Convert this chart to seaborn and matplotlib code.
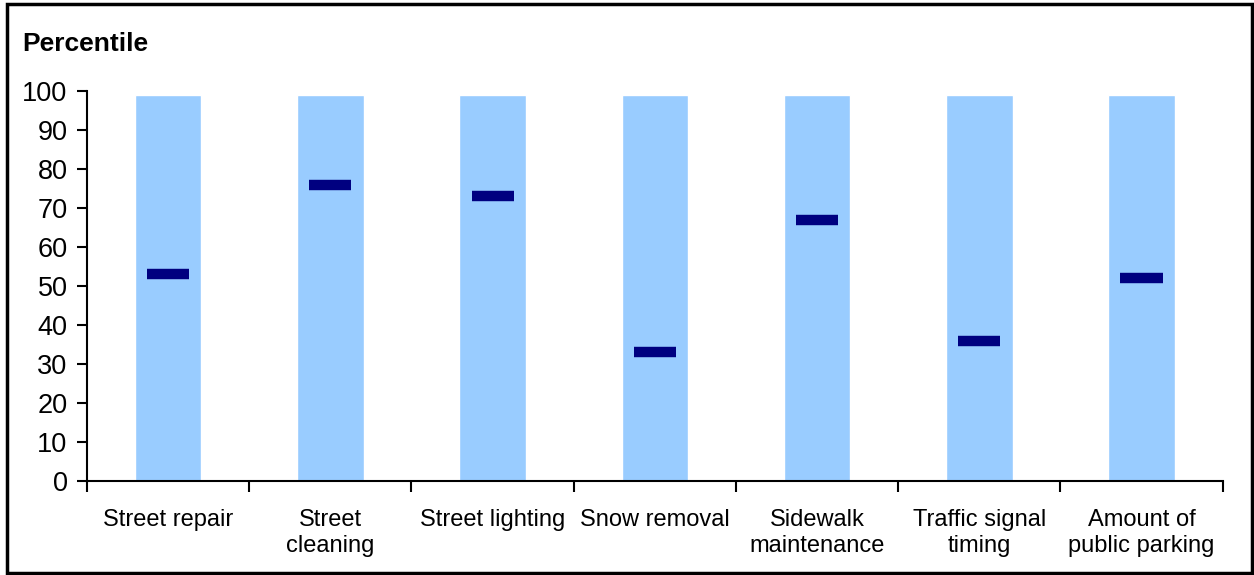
import numpy as np
import pandas as pd
import matplotlib
matplotlib.use("Agg")
import matplotlib.pyplot as plt
import seaborn as sns
from matplotlib.patches import Rectangle

# data
categories = ["Street repair", "Street\ncleaning", "Street lighting", "Snow removal",
              "Sidewalk\nmaintenance", "Traffic signal\ntiming", "Amount of\npublic parking"]
range_top = [99, 99, 99, 99, 99, 99, 99]
percentile = [53, 76, 73, 33, 67, 36, 52]

sns.set_style("white")
plt.rcParams['font.family'] = ['Liberation Sans', 'DejaVu Sans']
plt.rcParams['text.color'] = 'black'
plt.rcParams['xtick.color'] = 'black'
plt.rcParams['ytick.color'] = 'black'

df = pd.DataFrame({"cat": categories, "top": range_top, "pct": percentile})

fig = plt.figure(figsize=(12.54, 5.75), dpi=100)
ax = fig.add_axes([0.0694, 0.1635, 0.9056, 0.6782])

sns.barplot(data=df, x="cat", y="top", color="#99CCFF", saturation=1, width=0.41, ax=ax)

# dark marker for each category
pos = np.arange(len(categories))
ax.hlines(df["pct"], pos - 0.13, pos + 0.13, colors="#000080", linewidth=7.5, capstyle="butt")

ax.set_xlim(-0.5, len(categories) - 0.5)
ax.set_ylim(0, 100)
ax.set_yticks(np.arange(0, 101, 10))
ax.set_xlabel("")
ax.set_ylabel("")
ax.tick_params(axis="y", direction="out", length=7, width=1.5, color="black", labelsize=19.5, left=True, pad=7)
ax.tick_params(axis="x", which="major", length=0, labelsize=17, pad=20)
ax.set_xticks(np.arange(-0.5, len(categories), 1), minor=True)
ax.tick_params(axis="x", which="minor", direction="out", length=8, width=1.5, color="black", bottom=True)
for lbl in ax.get_xticklabels():
    lbl.set_linespacing(1.25)

for s in ["top", "right"]:
    ax.spines[s].set_visible(False)
for s in ["left", "bottom"]:
    ax.spines[s].set_color("black")
    ax.spines[s].set_linewidth(1.5)

fig.text(0.018, 0.923, "Percentile", fontsize=19, fontweight="bold", va="center")

fig.patches.append(Rectangle((0.0056, 0.004), 0.993, 0.989, transform=fig.transFigure,
                             fill=False, edgecolor="black", linewidth=2.5))

fig.savefig("out.png", dpi=100)
